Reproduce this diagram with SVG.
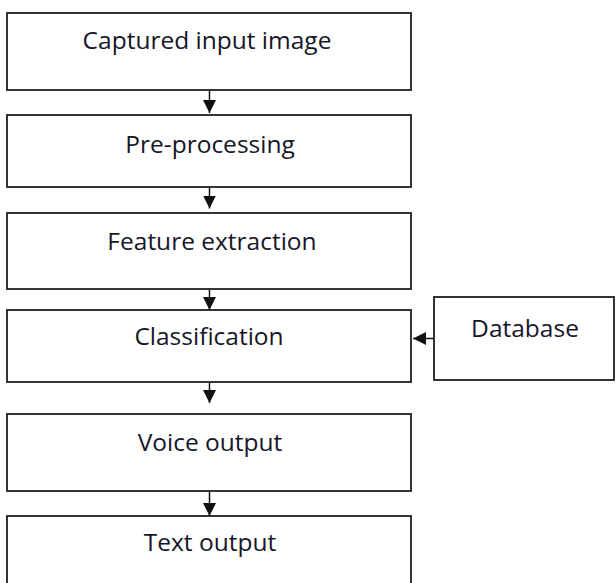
<svg xmlns="http://www.w3.org/2000/svg" width="616" height="583" viewBox="0 0 616 583">
  <style>
    .box { fill: #ffffff; stroke: #1e1e1e; stroke-width: 1.8; }
    .lbl { font-family: "Open Sans", "Noto Sans", "DejaVu Sans", sans-serif; font-size: 24.5px; fill: #161628; text-anchor: middle; }
    .conn { stroke: #111111; stroke-width: 1.5; fill: none; marker-end: url(#arrow); }
  </style>
  <defs>
    <marker id="arrow" markerUnits="userSpaceOnUse" markerWidth="13" markerHeight="13" refX="13" refY="6.5" orient="auto">
      <path d="M0,0 L13,6.5 L0,13 z" fill="#111111"/>
    </marker>
  </defs>
  <rect width="616" height="583" fill="#ffffff"/>

  <g id="captured">
    <rect class="box" x="7" y="13" width="404" height="77"/>
    <text class="lbl" x="207" y="49">Captured input image</text>
  </g>
  <g id="preprocessing">
    <rect class="box" x="7" y="115" width="404" height="72"/>
    <text class="lbl" x="210" y="153">Pre-processing</text>
  </g>
  <g id="feature">
    <rect class="box" x="7" y="213" width="404" height="76"/>
    <text class="lbl" x="212" y="250">Feature extraction</text>
  </g>
  <g id="classification">
    <rect class="box" x="7" y="310" width="404" height="72"/>
    <text class="lbl" x="209" y="345">Classification</text>
  </g>
  <g id="database">
    <rect class="box" x="434" y="297" width="180" height="83"/>
    <text class="lbl" x="525" y="337">Database</text>
  </g>
  <g id="voice">
    <rect class="box" x="7" y="414" width="404" height="77"/>
    <text class="lbl" x="210" y="451">Voice output</text>
  </g>
  <g id="text">
    <rect class="box" x="7" y="516" width="404" height="80"/>
    <text class="lbl" x="210" y="551">Text output</text>
  </g>

  <g id="connectors">
    <line class="conn" x1="209.5" y1="91" x2="209.5" y2="113"/>
    <line class="conn" x1="209.5" y1="188" x2="209.5" y2="208.5"/>
    <line class="conn" x1="209.5" y1="290" x2="209.5" y2="310"/>
    <line class="conn" x1="209.5" y1="383" x2="209.5" y2="403"/>
    <line class="conn" x1="209.5" y1="492" x2="209.5" y2="516"/>
    <line class="conn" x1="434" y1="338.5" x2="413" y2="338.5"/>
  </g>
</svg>
